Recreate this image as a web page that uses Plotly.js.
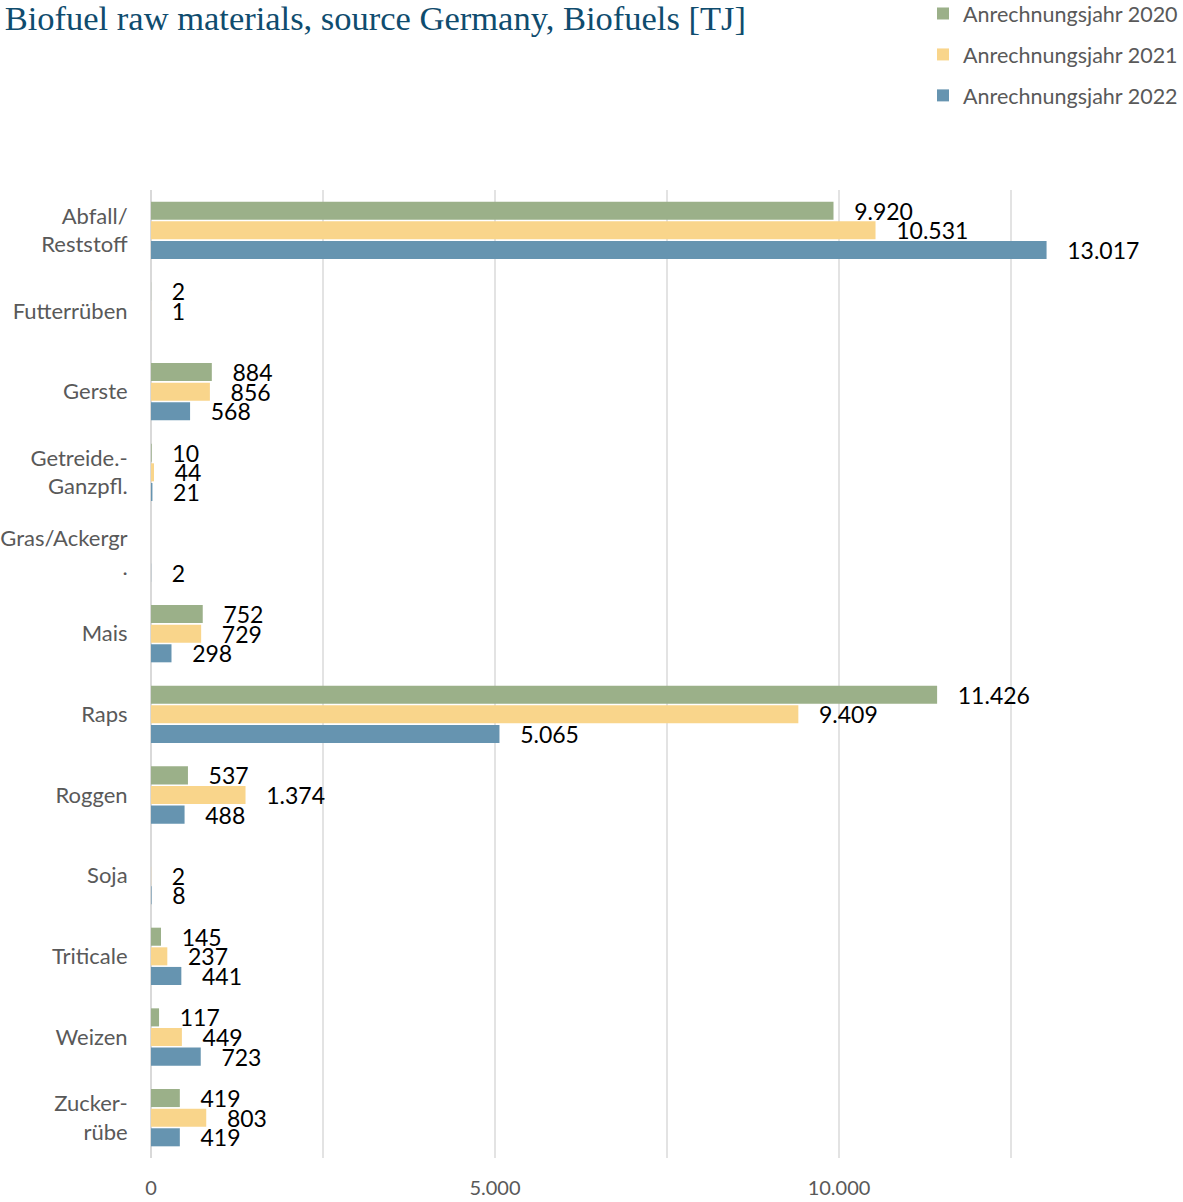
<!DOCTYPE html>
<html>
<head>
<meta charset="utf-8">
<script src="https://cdn.plot.ly/plotly-3.0.1.min.js"></script>
<style>html,body{margin:0;padding:0;background:#fff;}#chart{width:1183px;height:1202px;}</style>
</head>
<body>
<div id="chart"></div>
<script>
const categories = ["Abfall/<br>Reststoff","Futterrüben","Gerste","Getreide.-<br>Ganzpfl.","Gras/Ackergr<br>.","Mais","Raps","Roggen","Soja","Triticale","Weizen","Zucker-<br>rübe"];
const series2020 = [9920, 2, 884, 10, null, 752, 11426, 537, null, 145, 117, 419];
const series2021 = [10531, 1, 856, 44, null, 729, 9409, 1374, 2, 237, 449, 803];
const series2022 = [13017, null, 568, 21, 2, 298, 5065, 488, 8, 441, 723, 419];
const seriesNames = ["Anrechnungsjahr 2020","Anrechnungsjahr 2021","Anrechnungsjahr 2022"];
const colors = ["#9bb089","#f9d58b","#6694b0"];
const xTickVals = [0, 2500, 5000, 7500, 10000, 12500];
const xTickText = ["0", "", "5.000", "", "10.000", ""];

const allSeries = [series2020, series2021, series2022];
const traces = allSeries.map((vals, i) => ({
  type: 'bar',
  orientation: 'h',
  name: seriesNames[i],
  y: categories,
  x: vals,
  legendgroup: 'g' + i,
  marker: {color: colors[i], line: {width: 0}},
  texttemplate: '\u00a0\u00a0\u00a0%{x:,.0f}',
  textposition: 'outside',
  constraintext: 'none',
  cliponaxis: false,
  textfont: {family: 'Lato, sans-serif', size: 23, color: '#000000'},
  hoverinfo: 'x+name'
}));

const layout = {
  width: 1183,
  height: 1202,
  separators: ',.',
  paper_bgcolor: '#ffffff',
  plot_bgcolor: '#ffffff',
  margin: {l: 151, r: 0, t: 190, b: 44, autoexpand: false},
  barmode: 'group',
  bargap: 0.27,
  bargroupgap: 0.08,
  title: {
    text: 'Biofuel raw materials, source Germany, Biofuels [TJ]',
    font: {family: '"Liberation Serif", serif', size: 34.5, color: '#0f4c6e'},
    xref: 'container', yref: 'container',
    x: 0.004, xanchor: 'left',
    y: 0.985, yanchor: 'middle'
  },
  legend: {
    xref: 'container', yref: 'paper',
    x: 1, xanchor: 'right',
    y: 1.2035, yanchor: 'top',
    font: {family: 'Lato, sans-serif', size: 21.5, color: '#595959'},
    tracegroupgap: 10,
    traceorder: 'grouped',
    itemsizing: 'constant',
    bgcolor: 'rgba(0,0,0,0)',
    borderwidth: 0
  },
  xaxis: {
    range: [0, 15000],
    tickvals: xTickVals,
    ticktext: xTickText,
    showgrid: true,
    gridcolor: '#e3e3e3',
    gridwidth: 1.5,
    zeroline: true,
    zerolinecolor: '#d9d9d9',
    zerolinewidth: 2.5,
    showline: false,
    ticks: 'outside',
    ticklen: 12,
    tickcolor: 'rgba(0,0,0,0)',
    tickfont: {family: 'Lato, sans-serif', size: 20, color: '#595959'},
    fixedrange: true
  },
  yaxis: {
    autorange: 'reversed',
    type: 'category',
    showgrid: false,
    zeroline: false,
    showline: false,
    ticks: 'outside',
    ticklen: 18,
    tickcolor: 'rgba(0,0,0,0)',
    tickfont: {family: 'Lato, sans-serif', size: 22, color: '#595959'},
    fixedrange: true
  }
};

Plotly.newPlot('chart', traces, layout, {displayModeBar: false, staticPlot: true});
</script>
</body>
</html>
